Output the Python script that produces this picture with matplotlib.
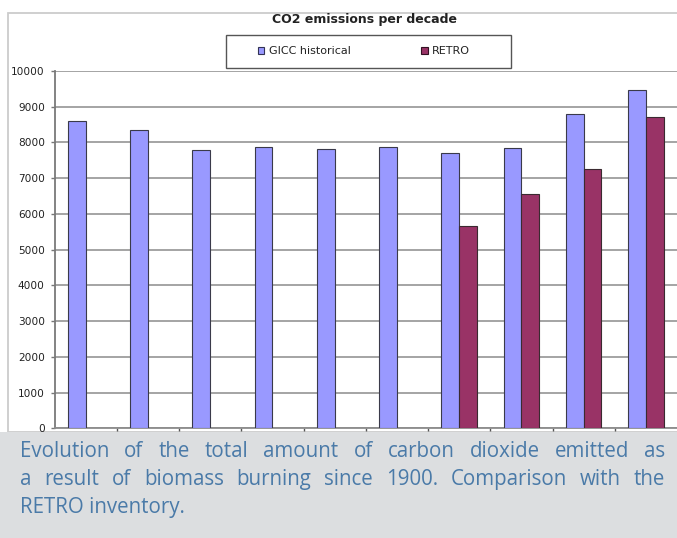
import matplotlib.pyplot as plt
from matplotlib.patches import Patch, Rectangle
import numpy as np

# Data: CO2 emitted by biomass burning, one value per decade since 1900
decades = ["1900", "1910", "1920", "1930", "1940", "1950", "1960", "1970", "1980", "1990"]
gicc_historical = [8610, 8350, 7790, 7880, 7820, 7860, 7700, 7840, 8800, 9470]
retro = [np.nan, np.nan, np.nan, np.nan, np.nan, np.nan, 5670, 6560, 7260, 8700]
y_ticks = [0, 1000, 2000, 3000, 4000, 5000, 6000, 7000, 8000, 9000, 10000]

caption_lines = [
    "Evolution of the total amount of carbon dioxide emitted as",
    "a result of biomass burning since 1900. Comparison with the",
    "RETRO inventory.",
]

W, H = 677, 538
fig = plt.figure(figsize=(W / 100, H / 100), dpi=100)
fig.patch.set_facecolor("white")


def fx(px):
    return px / W


def fy(py):
    return 1 - py / H


########################################################################################
# Background: white chart card on top, grey caption band below
card = Rectangle((fx(8), fy(432)), fx(W + 10) - fx(8), fy(13) - fy(432),
                 transform=fig.transFigure, facecolor="white",
                 edgecolor="#cccccc", linewidth=1.3, zorder=-3)
fig.patches.append(card)
band = Rectangle((0, 0), 1, fy(432), transform=fig.transFigure,
                 facecolor="#dcdee0", edgecolor="none", zorder=-2)
fig.patches.append(band)

########################################################################################
# Bar chart
ax = fig.add_axes([fx(54.5), fy(428.3), 1 - fx(54.5), fy(71) - fy(428.3)])
ax.set_facecolor("white")

x = np.arange(len(decades))
w = 0.285
ax.bar(x - w / 2, gicc_historical, width=w, color="#9999ff",
       edgecolor="#3a3a4a", linewidth=0.8, zorder=3)
ax.bar(x + w / 2, retro, width=w, color="#993366",
       edgecolor="#3a2a30", linewidth=0.8, zorder=3)

ax.set_xlim(-0.5, len(decades) - 0.5)
ax.set_ylim(0, 10000)
ax.set_yticks(y_ticks)
ax.set_yticklabels([str(t) for t in y_ticks], fontsize=7.6, color="#222222")
ax.yaxis.grid(True, color="#8c8c8c", linewidth=1.1, zorder=1)
ax.set_axisbelow(True)

# small ticks between the decades, no labels
ax.set_xticks(np.arange(0.5, len(decades) - 0.5, 1.0))
ax.set_xticklabels([])
ax.tick_params(axis="x", length=2, width=1, color="#555555")
ax.tick_params(axis="y", length=3, width=1, color="#777777", pad=4)

for side in ["top", "right"]:
    ax.spines[side].set_visible(False)
ax.spines["left"].set_color("#7a7a7a")
ax.spines["left"].set_linewidth(1.3)
ax.spines["bottom"].set_color("#8c8c8c")
ax.spines["bottom"].set_linewidth(1.3)

########################################################################################
# Title and legend
fig.text(fx(364), fy(19.5), "CO2 emissions per decade", ha="center", va="center",
         fontsize=9, fontweight="bold", color="#222222")

legend_box = Rectangle((fx(226), fy(67.7)), fx(511) - fx(226), fy(35) - fy(67.7),
                       transform=fig.transFigure, facecolor="white",
                       edgecolor="#555555", linewidth=1.0, zorder=1)
fig.patches.append(legend_box)
handles = [
    Patch(facecolor="#9999ff", edgecolor="#333355", linewidth=0.8, label="GICC historical"),
    Patch(facecolor="#993366", edgecolor="#331122", linewidth=0.8, label="RETRO"),
]
fig.legend(handles=handles, loc="center", bbox_to_anchor=(fx(364), fy(51.5)),
           ncol=2, frameon=False, fontsize=8, handlelength=0.6, handleheight=0.6,
           handletextpad=0.4, columnspacing=6.35, labelcolor="#222222")

########################################################################################
# Caption, justified between x=20 and x=665
text_kw = dict(fontsize=14.8, color="#4a7aa8", family=["Open Sans", "DejaVu Sans"],
               va="baseline", ha="left")
left, right = 20, 665
baselines = [457, 485, 513]

fig.canvas.draw()
renderer = fig.canvas.get_renderer()
for i, line in enumerate(caption_lines):
    if i == len(caption_lines) - 1:
        fig.text(fx(left), fy(baselines[i]), line, **text_kw)
        continue
    words = line.split(" ")
    items = [fig.text(fx(left), fy(baselines[i]), wd, **text_kw) for wd in words]
    widths = [t.get_window_extent(renderer).width for t in items]
    gap = (right - left - sum(widths)) / (len(words) - 1)
    pos = left
    for t, wdt in zip(items, widths):
        t.set_x(fx(pos))
        pos += wdt + gap

fig.savefig("out.png", dpi=100)
